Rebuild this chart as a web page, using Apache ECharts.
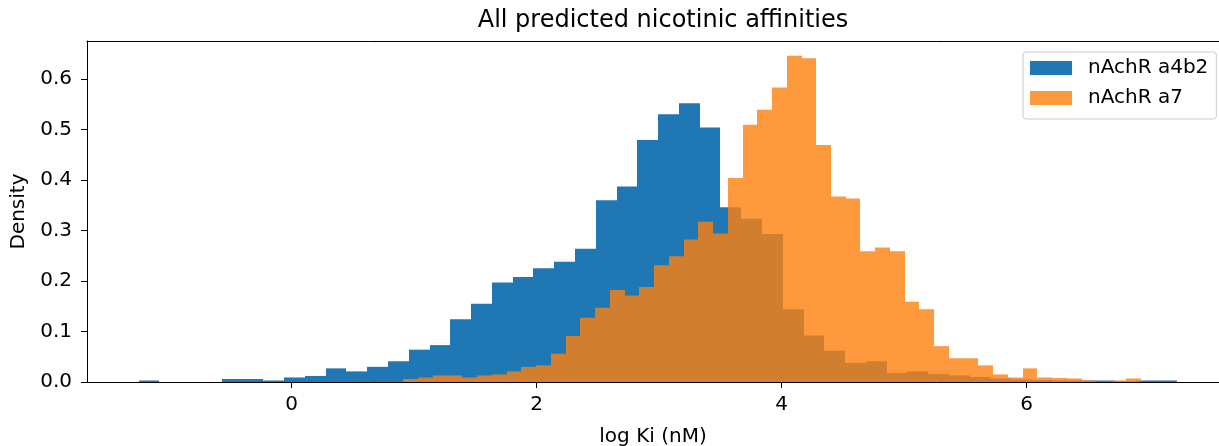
<!DOCTYPE html>
<html>
<head>
<meta charset="utf-8">
<script src="https://cdn.jsdelivr.net/npm/echarts@6/dist/echarts.min.js"></script>
<style>
html,body{margin:0;padding:0;background:#fff;}
#chart{width:1219px;height:446px;}
</style>
</head>
<body>
<div id="chart"></div>
<script>
// ---- data ----
var titleText = 'All predicted nicotinic affinities';
var xAxisName = 'log Ki (nM)';
var yAxisName = 'Density';
var seriesNames = ['nAchR a4b2', 'nAchR a7'];
var xTicks = [0, 2, 4, 6];
var yTicks = [0.0, 0.1, 0.2, 0.3, 0.4, 0.5, 0.6];

// nAchR a4b2 histogram: 50 bins starting at -1.249, width 0.1696
var a4b2Start = -1.249;
var a4b2BinWidth = 0.1696;
var a4b2Density = [
  0.003, 0.000, 0.000, 0.000, 0.006, 0.006, 0.003, 0.009, 0.012, 0.027,
  0.021, 0.030, 0.041, 0.064, 0.073, 0.124, 0.155, 0.197, 0.208, 0.225,
  0.238, 0.264, 0.360, 0.387, 0.479, 0.530, 0.552, 0.504, 0.346, 0.323,
  0.293, 0.144, 0.092, 0.062, 0.038, 0.041, 0.018, 0.021, 0.016, 0.013,
  0.010, 0.007, 0.005, 0.004, 0.003, 0.003, 0.003, 0.002, 0.003, 0.003
];

// nAchR a7 histogram: 50 bins starting at 0.911, width 0.1204
var a7Start = 0.911;
var a7BinWidth = 0.1204;
var a7Density = [
  0.006, 0.009, 0.013, 0.013, 0.009, 0.013, 0.015, 0.021, 0.030, 0.033,
  0.056, 0.091, 0.127, 0.147, 0.182, 0.171, 0.188, 0.231, 0.249, 0.282,
  0.317, 0.294, 0.404, 0.509, 0.539, 0.583, 0.646, 0.641, 0.469, 0.367,
  0.363, 0.259, 0.266, 0.259, 0.159, 0.144, 0.071, 0.047, 0.047, 0.033,
  0.015, 0.009, 0.027, 0.009, 0.008, 0.007, 0.003, 0.001, 0.003, 0.007
];

// ---- build ----
function bins(start, w, dens) {
  return dens.map(function (d, i) {
    return [start + w * i, start + w * (i + 1), d];
  });
}

function histRender(color, opacity) {
  return function (params, api) {
    var p0 = api.coord([api.value(0), api.value(2)]);
    var p1 = api.coord([api.value(1), 0]);
    var x0 = Math.round(p0[0]);
    var x1 = Math.round(p1[0]);
    var y0 = p0[1];
    var y1 = p1[1];
    return {
      type: 'rect',
      shape: { x: x0, y: y0, width: x1 - x0, height: y1 - y0 },
      style: { fill: color, opacity: opacity }
    };
  };
}

var FONT = 'DejaVu Sans';
var FS = 20;
var BLUE = '#1f77b4';
var ORANGE = '#ff7f0e';

var chart = echarts.init(document.getElementById('chart'), null, { renderer: 'canvas' });
chart.setOption({
  animation: false,
  backgroundColor: '#ffffff',
  title: {
    text: titleText,
    left: 658,
    textAlign: 'center',
    top: 4,
    textStyle: { fontFamily: FONT, fontSize: 24, fontWeight: 'normal', color: '#000' }
  },
  grid: { left: 87, right: 0, top: 41, bottom: 64, containLabel: false, outerBoundsMode: 'none' },
  legend: {
    orient: 'vertical',
    left: 1023,
    top: 52,
    padding: [6, 8, 11, 7],
    itemWidth: 42,
    itemHeight: 14,
    itemGap: 10,
    icon: 'rect',
    borderColor: '#cccccc',
    borderWidth: 1,
    borderRadius: 3,
    backgroundColor: 'rgba(255,255,255,0.8)',
    textStyle: { fontFamily: FONT, fontSize: FS, color: '#000', padding: [0, 0, 0, 11] },
    data: [
      { name: seriesNames[0], itemStyle: { color: BLUE } },
      { name: seriesNames[1], itemStyle: { color: ORANGE, opacity: 0.8 } }
    ]
  },
  xAxis: [
    {
      type: 'value',
      min: -1.671,
      max: 7.570,
      name: xAxisName,
      nameLocation: 'middle',
      nameGap: 45,
      nameTextStyle: { fontFamily: FONT, fontSize: FS, color: '#000' },
      axisLine: { show: true, onZero: false, lineStyle: { color: '#000', width: 1 } },
      axisTick: { show: true, inside: false, length: 6, customValues: xTicks, lineStyle: { color: '#000' } },
      axisLabel: { customValues: xTicks, margin: 13, fontFamily: FONT, fontSize: FS, color: '#000' },
      splitLine: { show: false }
    },
    {
      type: 'value',
      position: 'top',
      min: -1.671,
      max: 7.570,
      axisLine: { show: true, onZero: false, lineStyle: { color: '#000', width: 1 } },
      axisTick: { show: false },
      axisLabel: { show: false },
      splitLine: { show: false }
    }
  ],
  yAxis: {
    type: 'value',
    min: 0,
    max: 0.675,
    name: yAxisName,
    nameLocation: 'middle',
    nameGap: 58,
    nameTextStyle: { fontFamily: FONT, fontSize: FS, color: '#000' },
    axisLine: { show: true, onZero: false, lineStyle: { color: '#000', width: 1 } },
    axisTick: { show: true, inside: false, length: 6, customValues: yTicks, lineStyle: { color: '#000' } },
    axisLabel: {
      customValues: yTicks, margin: 15, fontFamily: FONT, fontSize: FS, color: '#000',
      formatter: function (v) { return v.toFixed(1); }
    },
    splitLine: { show: false }
  },
  series: [
    {
      name: seriesNames[0],
      type: 'custom',
      xAxisIndex: 0,
      renderItem: histRender(BLUE, 1),
      itemStyle: { color: BLUE },
      encode: { x: [0, 1], y: 2 },
      data: bins(a4b2Start, a4b2BinWidth, a4b2Density),
      z: 2
    },
    {
      name: seriesNames[1],
      type: 'custom',
      xAxisIndex: 0,
      renderItem: histRender(ORANGE, 0.8),
      itemStyle: { color: ORANGE, opacity: 0.8 },
      encode: { x: [0, 1], y: 2 },
      data: bins(a7Start, a7BinWidth, a7Density),
      z: 3
    }
  ]
});
</script>
</body>
</html>
